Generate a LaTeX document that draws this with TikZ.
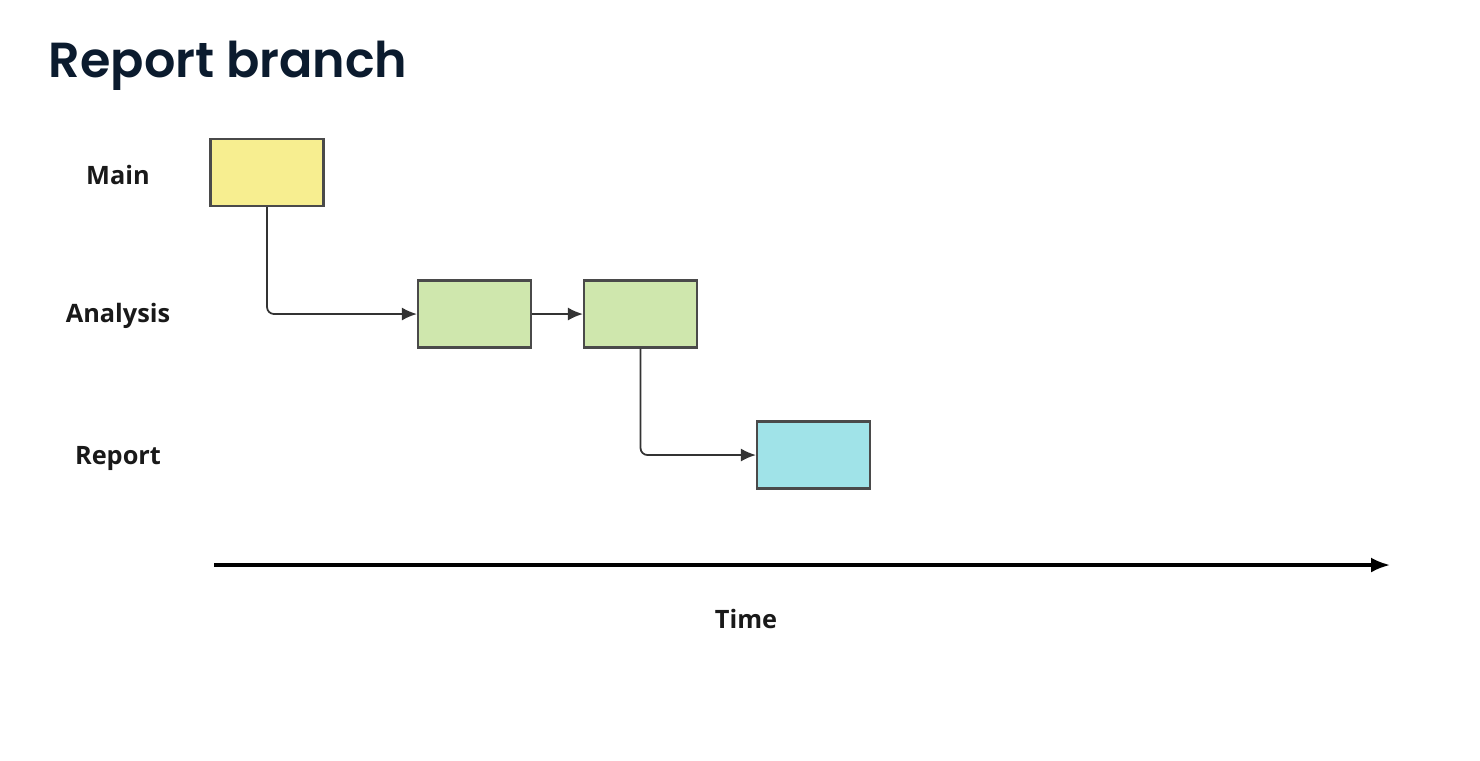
\documentclass[tikz,border=0pt]{standalone}
\usepackage{fontspec}
\setmainfont{Open Sans}
\newfontfamily\titlefont{Poppins SemiBold}
\usepackage{xcolor}
\usetikzlibrary{arrows.meta}

\definecolor{titlenavy}{HTML}{0B1B2E}
\definecolor{mainyellow}{HTML}{F7EE90}
\definecolor{analysisgreen}{HTML}{CFE7AD}
\definecolor{reportcyan}{HTML}{A0E3E8}
\definecolor{edgegray}{HTML}{4A4A4A}

\tikzset{
  commit/.style={draw=edgegray,line width=0.6pt,minimum width=1.13cm,minimum height=0.67cm,inner sep=0pt},
  lane/.style={font=\fontsize{7.2}{8}\selectfont\bfseries,text=black!90},
  link/.style={draw=black!80,line width=0.5pt,rounded corners=2pt,-{Latex[length=1.5mm,width=1.3mm]}}
}

\begin{document}
\begin{tikzpicture}[x=0.01cm,y=-0.01cm]
  \useasboundingbox (0,0) rectangle (1480,760);
  \node[anchor=base west,text=titlenavy,inner sep=0pt] (title) at (48,77) {\titlefont\fontsize{14}{16}\selectfont Report branch};
  % lane names on the left
  \node[lane] (mainlane) at (118,175) {Main};
  \node[lane] (analysislane) at (118,316) {Analysis};
  \node[lane] (reportlane) at (118,458) {Report};
  % commits
  \node[commit,fill=mainyellow] (main) at (267,172.5) {};
  \node[commit,fill=analysisgreen] (analysisa) at (474.5,314) {};
  \node[commit,fill=analysisgreen] (analysisb) at (640.5,314) {};
  \node[commit,fill=reportcyan] (report) at (813.5,455) {};
  \draw[link] (main.south) |- (analysisa.west);
  \draw[link] (analysisa.east) -- (analysisb.west);
  \draw[link] (analysisb.south) |- (report.west);
  % time axis
  \coordinate (t0) at (214,565);
  \coordinate (t1) at (1390,565);
  \draw[line width=0.9pt,-{Latex[length=1.9mm,width=1.5mm]}] (t0) -- (t1);
  \node[lane] (time) at (746,619) {Time};
\end{tikzpicture}
\end{document}
